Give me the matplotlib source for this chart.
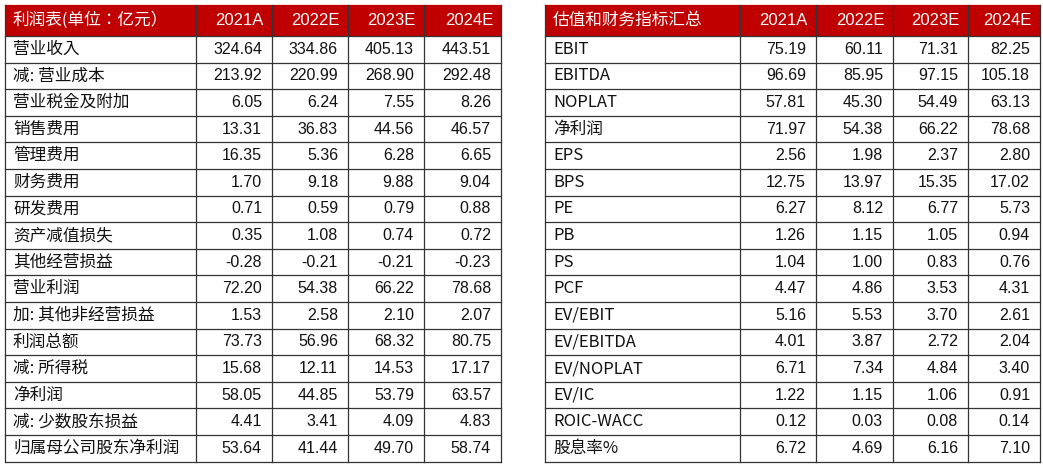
import matplotlib.pyplot as plt
from matplotlib.patches import Rectangle

plt.rcParams['font.family'] = ['Noto Sans CJK JP', 'Noto Sans CJK SC', 'DejaVu Sans']

years = ["2021A", "2022E", "2023E", "2024E"]

left_title = "利润表(单位：亿元）"
left_items = ["营业收入", "减: 营业成本", "营业税金及附加", "销售费用", "管理费用", "财务费用",
              "研发费用", "资产减值损失", "其他经营损益", "营业利润", "加: 其他非经营损益",
              "利润总额", "减: 所得税", "净利润", "减: 少数股东损益", "归属母公司股东净利润"]
left_vals = [
    [324.64, 334.86, 405.13, 443.51],
    [213.92, 220.99, 268.90, 292.48],
    [6.05, 6.24, 7.55, 8.26],
    [13.31, 36.83, 44.56, 46.57],
    [16.35, 5.36, 6.28, 6.65],
    [1.70, 9.18, 9.88, 9.04],
    [0.71, 0.59, 0.79, 0.88],
    [0.35, 1.08, 0.74, 0.72],
    [-0.28, -0.21, -0.21, -0.23],
    [72.20, 54.38, 66.22, 78.68],
    [1.53, 2.58, 2.10, 2.07],
    [73.73, 56.96, 68.32, 80.75],
    [15.68, 12.11, 14.53, 17.17],
    [58.05, 44.85, 53.79, 63.57],
    [4.41, 3.41, 4.09, 4.83],
    [53.64, 41.44, 49.70, 58.74],
]

right_title = "估值和财务指标汇总"
right_items = ["EBIT", "EBITDA", "NOPLAT", "净利润", "EPS", "BPS", "PE", "PB", "PS", "PCF",
               "EV/EBIT", "EV/EBITDA", "EV/NOPLAT", "EV/IC", "ROIC-WACC", "股息率%"]
right_vals = [
    [75.19, 60.11, 71.31, 82.25],
    [96.69, 85.95, 97.15, 105.18],
    [57.81, 45.30, 54.49, 63.13],
    [71.97, 54.38, 66.22, 78.68],
    [2.56, 1.98, 2.37, 2.80],
    [12.75, 13.97, 15.35, 17.02],
    [6.27, 8.12, 6.77, 5.73],
    [1.26, 1.15, 1.05, 0.94],
    [1.04, 1.00, 0.83, 0.76],
    [4.47, 4.86, 3.53, 4.31],
    [5.16, 5.53, 3.70, 2.61],
    [4.01, 3.87, 2.72, 2.04],
    [6.71, 7.34, 4.84, 3.40],
    [1.22, 1.15, 1.06, 0.91],
    [0.12, 0.03, 0.08, 0.14],
    [6.72, 4.69, 6.16, 7.10],
]

W, H = 1043, 472
fig = plt.figure(figsize=(W / 100, H / 100), dpi=100)
ax = fig.add_axes([0, 0, 1, 1])
ax.set_xlim(0, W)
ax.set_ylim(H, 0)
ax.axis('off')

red = "#C00000"
top, head_h, row_h = 5, 31, 26.6


def draw_table(cols, title, items, vals):
    x0, x1 = cols[0], cols[-1]
    bottom = top + head_h + row_h * len(items)
    ax.add_patch(Rectangle((x0, top), x1 - x0, head_h, color=red, lw=0))
    ax.text(x0 + 8, top + head_h / 2, title, color="white", fontsize=12, va="center")
    for j, y in enumerate(years):
        ax.text(cols[j + 2] - 8, top + head_h / 2, y, color="white", fontsize=12,
                va="center", ha="right", family="Liberation Sans")
    for i, (name, row) in enumerate(zip(items, vals)):
        yc = top + head_h + row_h * (i + 0.5)
        ax.text(x0 + 8, yc, name, fontsize=12, va="center", color="#111111")
        for j, v in enumerate(row):
            ax.text(cols[j + 2] - 10, yc, f"{v:.2f}", fontsize=11.5, va="center",
                    ha="right", color="#111111", family="Liberation Sans")
    for i in range(len(items) + 1):
        y = top + head_h + row_h * i
        ax.plot([x0, x1], [y, y], color="#333333", lw=0.9)
    ax.plot([x0, x1], [top, top], color=red, lw=0.9)
    for x in cols:
        ax.plot([x, x], [top, bottom], color="#333333", lw=0.9)


draw_table([5, 196, 272, 348, 424, 501], left_title, left_items, left_vals)
draw_table([545, 740, 816, 893, 968, 1040], right_title, right_items, right_vals)

fig.savefig("out.png", dpi=100)
